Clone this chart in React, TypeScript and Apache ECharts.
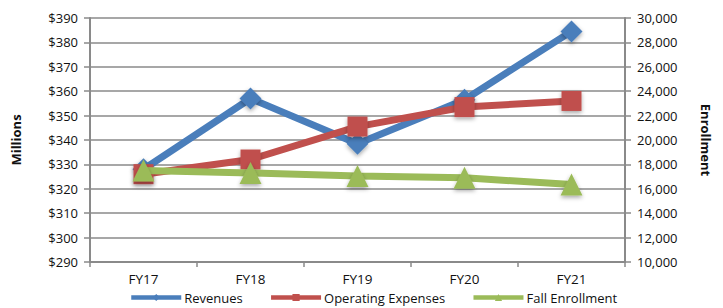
import React, { useEffect, useRef } from "react";
import * as echarts from "echarts";

const categories = ["FY17", "FY18", "FY19", "FY20", "FY21"];
const revenues = [328, 357, 338.5, 356.5, 384.5];
const operatingExpenses = [326, 332, 345.5, 353.5, 356];
const fallEnrollment = [17500, 17300, 17050, 16900, 16350];

const FONT = "'Open Sans', 'Liberation Sans', sans-serif";
const GRID = "#8a8a8a";

export default function App() {
  const ref = useRef<HTMLDivElement>(null);
  useEffect(() => {
    document.body.style.margin = "0";
    const chart = echarts.init(ref.current!, null, { renderer: "svg" });
    const shadow = {
      shadowColor: "rgba(0,0,0,0.35)",
      shadowBlur: 4,
      shadowOffsetY: 2,
    };
    chart.setOption({
      animation: false,
      backgroundColor: "#ffffff",
      textStyle: { fontFamily: FONT },
      grid: { left: 90, right: 98, top: 18, bottom: 46 },
      legend: {
        top: 286,
        left: 124,
        itemWidth: 50,
        itemHeight: 9,
        itemGap: 26,
        textStyle: { fontSize: 13, color: "#111", fontFamily: FONT, padding: [0, 0, 0, -2] },
        data: [
          { name: "Revenues", lineStyle: { width: 4.5 } },
          { name: "Operating Expenses", lineStyle: { width: 4.5 } },
          { name: "Fall Enrollment", lineStyle: { width: 4.5 } },
        ],
      },
      xAxis: {
        type: "category",
        data: categories,
        boundaryGap: true,
        axisLine: { lineStyle: { color: GRID, width: 2 } },
        axisTick: { show: true, length: 5, lineStyle: { color: GRID, width: 1.5 } },
        axisLabel: { color: "#111", fontSize: 13.5, margin: 10, fontFamily: FONT },
      },
      yAxis: [
        {
          type: "value",
          min: 290,
          max: 390,
          interval: 10,
          name: "Millions",
          nameLocation: "middle",
          nameRotate: 90,
          nameGap: 68,
          nameTextStyle: { fontWeight: "bold", fontSize: 13, color: "#111", fontFamily: FONT },
          axisLine: { show: true, lineStyle: { color: GRID, width: 2 } },
          axisTick: { show: true, length: 6, lineStyle: { color: GRID, width: 1.5 } },
          axisLabel: { color: "#111", fontSize: 13, margin: 12, formatter: "${value}", fontFamily: FONT },
          splitLine: { lineStyle: { color: GRID, width: 1.5 } },
        },
        {
          type: "value",
          min: 10000,
          max: 30000,
          interval: 2000,
          name: "Enrollment",
          nameLocation: "middle",
          nameRotate: -90,
          nameGap: 74,
          nameTextStyle: { fontWeight: "bold", fontSize: 13, color: "#111", fontFamily: FONT },
          axisLine: { show: true, lineStyle: { color: GRID, width: 2 } },
          axisTick: { show: true, length: 6, lineStyle: { color: GRID, width: 1.5 } },
          axisLabel: {
            color: "#111",
            fontSize: 13,
            margin: 12,
            fontFamily: FONT,
            formatter: (v: number) => v.toLocaleString("en-US"),
          },
          splitLine: { show: false },
        },
      ],
      series: [
        {
          name: "Revenues",
          type: "line",
          yAxisIndex: 0,
          data: revenues,
          symbol: "diamond",
          symbolSize: 22,
          lineStyle: { color: "#4a7ebb", width: 7 },
          itemStyle: { color: "#4a7ebb", ...shadow },
          z: 2,
        },
        {
          name: "Operating Expenses",
          type: "line",
          yAxisIndex: 0,
          data: operatingExpenses,
          symbol: "rect",
          symbolSize: 20,
          lineStyle: { color: "#c0504d", width: 7 },
          itemStyle: { color: "#c0504d", ...shadow },
          z: 3,
        },
        {
          name: "Fall Enrollment",
          type: "line",
          yAxisIndex: 1,
          data: fallEnrollment,
          symbol: "triangle",
          symbolSize: 22,
          lineStyle: { color: "#9bbb59", width: 7 },
          itemStyle: { color: "#9bbb59", ...shadow },
          z: 4,
        },
      ],
    });
    return () => chart.dispose();
  }, []);
  return (
    <div
      ref={ref}
      style={{ position: "fixed", left: 0, top: 0, width: 723, height: 308 }}
    />
  );
}
